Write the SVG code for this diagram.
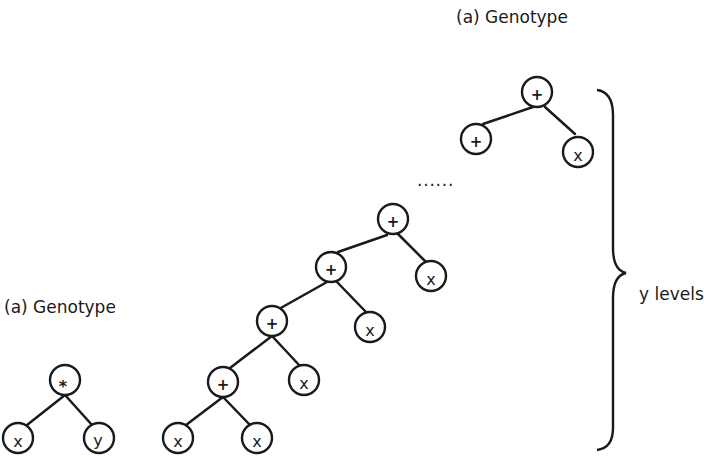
<svg xmlns="http://www.w3.org/2000/svg" width="704" height="457" viewBox="0 0 704 457">
<style>
.n circle{fill:#fff;stroke:#1a1a1a;stroke-width:2.4}
.n text{font-family:"DejaVu Sans",Verdana,sans-serif;font-size:16px;fill:#1a1a1a;text-anchor:middle}
.n text.p{font-weight:bold;font-size:15px}
.e line{stroke:#1a1a1a;stroke-width:2.5;stroke-linecap:round}
.lbl{font-family:"DejaVu Sans",Verdana,sans-serif;font-size:17px;fill:#1a1a1a}
</style>
<rect width="704" height="457" fill="#fff"/>
<text class="lbl" x="4" y="313">(a) Genotype</text>
<text class="lbl" x="456" y="23">(a) Genotype</text>
<text class="lbl" x="639" y="300" font-size="16.5">y levels</text>
<text class="lbl" x="417" y="186" font-size="15" letter-spacing="0.8">......</text>
<g class="e">
<line x1="65" y1="395" x2="27" y2="425"/>
<line x1="65" y1="395" x2="92" y2="425"/>
<line x1="223" y1="397" x2="186" y2="425"/>
<line x1="223" y1="397" x2="250" y2="425"/>
<line x1="272" y1="336" x2="230" y2="368"/>
<line x1="272" y1="336" x2="300" y2="366"/>
<line x1="327" y1="282" x2="279" y2="309"/>
<line x1="337" y1="282" x2="366" y2="312"/>
<line x1="387" y1="235" x2="338" y2="252"/>
<line x1="397" y1="233" x2="426" y2="262"/>
<line x1="533" y1="107" x2="483" y2="124"/>
<line x1="545" y1="107" x2="575" y2="134"/>
</g>
<path d="M597 90 Q613 92 613 115 L613 248 Q613 270 626 273 Q613 276 613 298 L613 428 Q613 448 597 450" fill="none" stroke="#1a1a1a" stroke-width="2.4"/>
<g id="n-star" class="n"><circle cx="65" cy="380" r="15"/><text x="63" y="392" font-size="20" font-weight="bold">*</text></g>
<g id="n-x1" class="n"><circle cx="18" cy="438" r="15"/><text x="18" y="447">x</text></g>
<g id="n-y1" class="n"><circle cx="99" cy="438" r="15"/><text x="98" y="446">y</text></g>
<g id="n-p1" class="n"><circle cx="223" cy="382" r="15"/><text class="p" x="223" y="390">+</text></g>
<g id="n-x2" class="n"><circle cx="178" cy="438" r="15"/><text x="178" y="447">x</text></g>
<g id="n-x3" class="n"><circle cx="257" cy="438" r="15"/><text x="257" y="447">x</text></g>
<g id="n-p2" class="n"><circle cx="272" cy="321" r="15"/><text class="p" x="272" y="329">+</text></g>
<g id="n-x4" class="n"><circle cx="304" cy="380" r="15"/><text x="304" y="389">x</text></g>
<g id="n-p3" class="n"><circle cx="331" cy="267" r="15"/><text class="p" x="331" y="275">+</text></g>
<g id="n-x5" class="n"><circle cx="370" cy="327" r="15"/><text x="370" y="336">x</text></g>
<g id="n-p4" class="n"><circle cx="393" cy="219" r="15"/><text class="p" x="393" y="227">+</text></g>
<g id="n-x6" class="n"><circle cx="431" cy="276" r="15"/><text x="431" y="285">x</text></g>
<g id="n-p5" class="n"><circle cx="537" cy="92" r="15"/><text class="p" x="537" y="100">+</text></g>
<g id="n-p6" class="n"><circle cx="476" cy="139" r="15"/><text class="p" x="476" y="147">+</text></g>
<g id="n-x7" class="n"><circle cx="578" cy="152" r="15"/><text x="578" y="161">x</text></g>
</svg>
